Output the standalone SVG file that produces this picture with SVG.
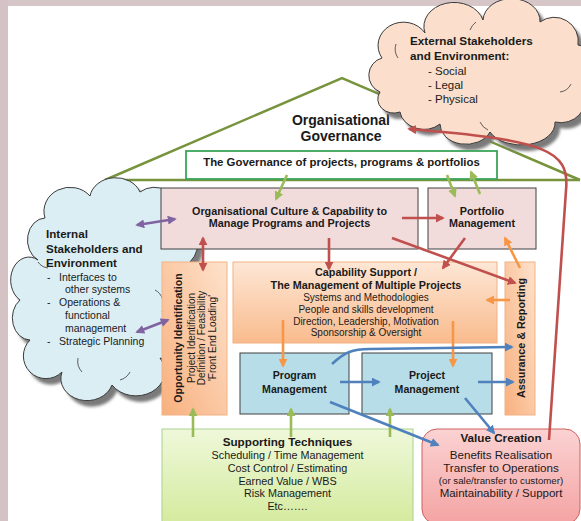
<svg xmlns="http://www.w3.org/2000/svg" width="581" height="521" viewBox="0 0 581 521">
<defs>
<style>
text{font-family:"Liberation Sans",Arial,sans-serif;fill:#1a1a1a}
.b{font-weight:bold}
.c{text-anchor:middle}
.box{stroke:#404040;stroke-width:1}
.pink{fill:#f2dcdb}
.blue{fill:#b7dee8}
.cl{stroke:#3a3a3a;stroke-width:1}
.arc{fill:none;stroke:#3a3a3a;stroke-width:0.8}
.con{fill:none;stroke-width:2.6}
.r{stroke:#c0504d}
.p{stroke:#8064a2}
.g{stroke:#9bbb59}
.o{stroke:#f79646}
.bl{stroke:#4f81bd}
</style>
<linearGradient id="gOr" x1="0" y1="0" x2="0" y2="1"><stop offset="0" stop-color="#fde7d6"/><stop offset="1" stop-color="#f9bb8d"/></linearGradient>
<linearGradient id="gOrV" x1="1" y1="0" x2="0" y2="1"><stop offset="0" stop-color="#fde2cc"/><stop offset="1" stop-color="#f8b07e"/></linearGradient>
<linearGradient id="gGr" x1="0" y1="0" x2="0" y2="1"><stop offset="0" stop-color="#eff8da"/><stop offset="1" stop-color="#d5eb9f"/></linearGradient>
<linearGradient id="gRd" x1="0" y1="0" x2="0" y2="1"><stop offset="0" stop-color="#fbd2d2"/><stop offset="1" stop-color="#f4a3a3"/></linearGradient>
<filter id="sh" x="-10%" y="-10%" width="130%" height="130%"><feGaussianBlur stdDeviation="1.5"/></filter>
<marker id="aR" viewBox="0 0 10 10" refX="8" refY="5" markerWidth="9" markerHeight="9" markerUnits="userSpaceOnUse" orient="auto-start-reverse"><path d="M0,0L10,5L0,10z" fill="#c0504d"/></marker>
<marker id="aP" viewBox="0 0 10 10" refX="8" refY="5" markerWidth="9" markerHeight="9" markerUnits="userSpaceOnUse" orient="auto-start-reverse"><path d="M0,0L10,5L0,10z" fill="#8064a2"/></marker>
<marker id="aG" viewBox="0 0 10 10" refX="8" refY="5" markerWidth="9" markerHeight="9" markerUnits="userSpaceOnUse" orient="auto-start-reverse"><path d="M0,0L10,5L0,10z" fill="#9bbb59"/></marker>
<marker id="aO" viewBox="0 0 10 10" refX="8" refY="5" markerWidth="9" markerHeight="9" markerUnits="userSpaceOnUse" orient="auto-start-reverse"><path d="M0,0L10,5L0,10z" fill="#f79646"/></marker>
<marker id="aB" viewBox="0 0 10 10" refX="8" refY="5" markerWidth="9" markerHeight="9" markerUnits="userSpaceOnUse" orient="auto-start-reverse"><path d="M0,0L10,5L0,10z" fill="#4f81bd"/></marker>
<path id="extC" d="M380,92 A18,18 0 0 1 382,58 A24,22 0 0 1 425,33 A30,24 0 0 1 483,20 A28,22 0 0 1 540,22 A24,24 0 0 1 578,45 A20,24 0 0 1 583,92 A24,22 0 0 1 555,122 A34,22 0 0 1 490,132 A26,20 0 0 1 440,124 A24,20 0 0 1 400,112 A16,14 0 0 1 380,92 Z"/>
<path id="intC" d="M38,260 A18,22 0 0 1 45,218 A26,24 0 0 1 90,196 A26,22 0 0 1 140,192 A24,24 0 0 1 178,215 A20,26 0 0 1 190,262 A20,26 0 0 1 178,312 A22,24 0 0 1 160,358 A26,22 0 0 1 112,385 A26,22 0 0 1 62,372 A22,22 0 0 1 30,340 A18,22 0 0 1 20,300 A16,20 0 0 1 38,260 Z"/>
</defs>
<rect x="0" y="0" width="581" height="521" fill="#ffffff"/>
<rect x="0" y="0" width="581" height="6" fill="#d6c6c8"/>
<rect x="0" y="0" width="8" height="521" fill="#d4c2c4"/>

<g id="roof">
<polyline points="105,180 342,78 580,180" fill="none" stroke="#77933c" stroke-width="2.5" stroke-linejoin="miter"/>
<line x1="105" y1="180" x2="580" y2="180" stroke="#77933c" stroke-width="2.5"/>
<text class="b c" x="341" y="125" font-size="14">Organisational</text>
<text class="b c" x="341" y="141" font-size="14">Governance</text>
</g>

<g id="external-cloud">
<use href="#extC" transform="translate(5,6)" fill="#7a7a7a" filter="url(#sh)"/>
<use href="#extC" class="cl" fill="#fbdfcc"/>
<path class="arc" d="M398,58 A16,16 0 0 1 396,44"/>
<path class="arc" d="M470,30 A18,18 0 0 1 476,22"/>
<path class="arc" d="M560,92 A14,14 0 0 0 571,84"/>
<path class="arc" d="M488,130 A16,16 0 0 1 480,122"/>
<text class="b" x="410" y="45" font-size="11.7">External Stakeholders</text>
<text class="b" x="410" y="60" font-size="11.7">and Environment:</text>
<text x="428" y="75" font-size="11.5">- Social</text>
<text x="428" y="89" font-size="11.5">- Legal</text>
<text x="428" y="103" font-size="11.5">- Physical</text>
</g>

<g id="internal-cloud">
<use href="#intC" transform="translate(5,6)" fill="#7a7a7a" filter="url(#sh)"/>
<use href="#intC" class="cl" fill="#dbeef4"/>
<path class="arc" d="M38,262 A14,14 0 0 0 48,268"/>
<path class="arc" d="M155,290 A14,16 0 0 1 162,312"/>
<path class="arc" d="M78,358 A16,16 0 0 0 82,372"/>
<path class="arc" d="M130,372 A16,16 0 0 1 120,380"/>
<text class="b" x="46" y="238" font-size="11.6">Internal</text>
<text class="b" x="46" y="253" font-size="11.6">Stakeholders and</text>
<text class="b" x="46" y="267" font-size="11.6">Environment</text>
<text x="47" y="281" font-size="10.5">-</text><text x="59" y="281" font-size="10.5">Interfaces to</text>
<text x="65" y="293" font-size="10.5">other systems</text>
<text x="47" y="306" font-size="10.5">-</text><text x="59" y="306" font-size="10.5">Operations &amp;</text>
<text x="65" y="319" font-size="10.5">functional</text>
<text x="65" y="332" font-size="10.5">management</text>
<text x="47" y="345" font-size="10.5">-</text><text x="59" y="345" font-size="10.5">Strategic Planning</text>
</g>

<g id="governance">
<rect x="186" y="151" width="311" height="28" fill="#ffffff" stroke="#3aa65a" stroke-width="1.8"/>
<text class="b c" x="341.5" y="166" font-size="11.4">The Governance of projects, programs &amp; portfolios</text>
</g>

<g id="org-culture">
<rect class="box pink" x="161" y="188" width="257" height="61"/>
<text class="b c" x="289.5" y="215" font-size="10.8">Organisational Culture &amp; Capability to</text>
<text class="b c" x="289.5" y="227" font-size="10.8">Manage Programs and Projects</text>
</g>

<g id="portfolio">
<rect class="box pink" x="428" y="188" width="108" height="61"/>
<text class="b c" x="482" y="215" font-size="10.8">Portfolio</text>
<text class="b c" x="482" y="227" font-size="10.8">Management</text>
</g>

<g id="opportunity">
<rect x="162" y="262" width="65" height="153" fill="url(#gOrV)" stroke="#f4b183" stroke-width="1"/>
<text class="b c" transform="translate(182,338) rotate(-90)" font-size="10.6">Opportunity Identification</text>
<text class="c" transform="translate(194.5,338) rotate(-90)" font-size="10">Project Identification</text>
<text class="c" transform="translate(205,338) rotate(-90)" font-size="10">Definition / Feasibility</text>
<text class="c" transform="translate(215.5,338) rotate(-90)" font-size="10">'Front End Loading'</text>
</g>

<g id="capability">
<rect x="233" y="262" width="264" height="81" fill="url(#gOr)" stroke="#f4b183" stroke-width="1"/>
<text class="b c" x="366" y="276" font-size="10.8">Capability Support /</text>
<text class="b c" x="366" y="289" font-size="10.8">The Management of Multiple Projects</text>
<text class="c" x="366" y="301" font-size="10">Systems and Methodologies</text>
<text class="c" x="366" y="313" font-size="10">People and skills development</text>
<text class="c" x="366" y="324.5" font-size="10">Direction, Leadership, Motivation</text>
<text class="c" x="366" y="336" font-size="10">Sponsorship &amp; Oversight</text>
</g>

<g id="assurance">
<rect x="505" y="262" width="30" height="153" fill="url(#gOrV)" stroke="#f4b183" stroke-width="1"/>
<text class="b c" transform="translate(525,338) rotate(-90)" font-size="10.8">Assurance &amp; Reporting</text>
</g>

<g id="program">
<rect class="box blue" x="240" y="353" width="109" height="61"/>
<text class="b c" x="294.5" y="379" font-size="10.6">Program</text>
<text class="b c" x="294.5" y="393" font-size="10.6">Management</text>
</g>

<g id="project">
<rect class="box blue" x="362" y="353" width="130" height="61"/>
<text class="b c" x="427" y="379" font-size="10.6">Project</text>
<text class="b c" x="427" y="393" font-size="10.6">Management</text>
</g>

<g id="supporting">
<rect x="162" y="429" width="251" height="93" fill="url(#gGr)" stroke="#a9d18e" stroke-width="1"/>
<text class="b c" x="287.5" y="446" font-size="11.7">Supporting Techniques</text>
<text class="c" x="287.5" y="459" font-size="10.8">Scheduling / Time Management</text>
<text class="c" x="287.5" y="472" font-size="10.8">Cost Control / Estimating</text>
<text class="c" x="287.5" y="484.5" font-size="10.8">Earned Value / WBS</text>
<text class="c" x="287.5" y="497" font-size="10.8">Risk Management</text>
<text class="c" x="287.5" y="510" font-size="10.8">Etc…….</text>
</g>

<g id="value-creation">
<rect x="422" y="429" width="158" height="95" rx="15" ry="15" fill="url(#gRd)" stroke="#d0605e" stroke-width="1"/>
<text class="b c" x="501" y="442" font-size="11.7">Value Creation</text>
<text class="c" x="501" y="459" font-size="11.6">Benefits Realisation</text>
<text class="c" x="501" y="472" font-size="11.6">Transfer to Operations</text>
<text class="c" x="501" y="484" font-size="9.7">(or sale/transfer to customer)</text>
<text class="c" x="501" y="497" font-size="11.5">Maintainability / Support</text>
</g>

<g id="connectors">
<line class="con g" x1="287" y1="175" x2="276" y2="199" marker-end="url(#aG)"/>
<line class="con g" x1="447" y1="175" x2="455" y2="196" marker-end="url(#aG)"/>
<line class="con g" x1="480" y1="194" x2="471" y2="172" marker-end="url(#aG)"/>
<line class="con g" x1="193" y1="437" x2="193" y2="409" marker-end="url(#aG)"/>
<line class="con g" x1="291" y1="437" x2="291" y2="409" marker-end="url(#aG)"/>
<line class="con g" x1="390" y1="437" x2="390" y2="409" marker-end="url(#aG)"/>
<line class="con p" x1="137" y1="225" x2="175" y2="219" marker-start="url(#aP)" marker-end="url(#aP)"/>
<line class="con p" x1="137" y1="332" x2="168" y2="320" marker-start="url(#aP)" marker-end="url(#aP)"/>
<line class="con r" x1="203" y1="238" x2="203" y2="270" marker-start="url(#aR)" marker-end="url(#aR)"/>
<line class="con r" x1="402" y1="218" x2="443" y2="218" marker-end="url(#aR)"/>
<line class="con r" x1="329" y1="238" x2="329" y2="269" marker-end="url(#aR)"/>
<line class="con r" x1="465" y1="238" x2="443" y2="268" marker-end="url(#aR)"/>
<line class="con r" x1="392" y1="238" x2="515" y2="283" marker-end="url(#aR)"/>
<path class="con r" d="M549,440 L566,190 C570,150 545,140 409,129" marker-end="url(#aR)"/>
<line class="con o" x1="520" y1="268" x2="505" y2="238" marker-end="url(#aO)"/>
<line class="con o" x1="510" y1="300" x2="487" y2="300" marker-end="url(#aO)"/>
<line class="con o" x1="283" y1="320" x2="283" y2="366" marker-end="url(#aO)"/>
<line class="con o" x1="453" y1="321" x2="453" y2="366" marker-end="url(#aO)"/>
<path class="con bl" d="M332,364 C345,352 352,349 370,349 L512,347" marker-end="url(#aB)"/>
<line class="con bl" x1="340" y1="382" x2="379" y2="382" marker-end="url(#aB)"/>
<line class="con bl" x1="478" y1="382" x2="513" y2="382" marker-end="url(#aB)"/>
<line class="con bl" x1="330" y1="402" x2="438" y2="445" marker-end="url(#aB)"/>
<line class="con bl" x1="465" y1="398" x2="494" y2="433" marker-end="url(#aB)"/>
</g>
</svg>
